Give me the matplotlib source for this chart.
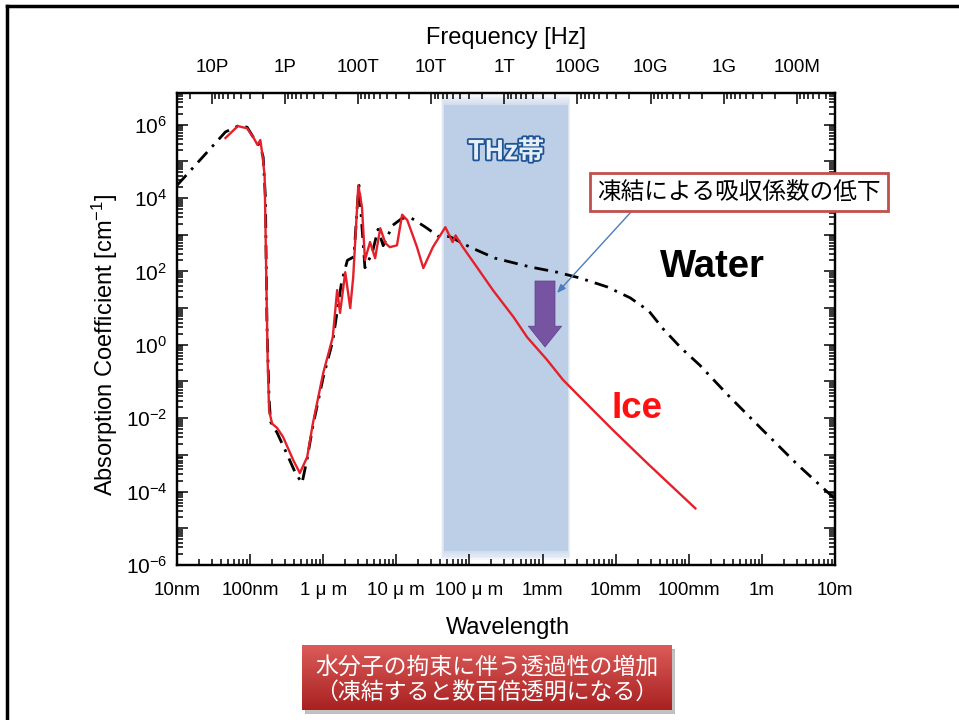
import numpy as np
import matplotlib
matplotlib.use("Agg")
import matplotlib.pyplot as plt
from matplotlib.ticker import FixedLocator, LogLocator, NullFormatter, FuncFormatter
from matplotlib.patches import Rectangle
import matplotlib.patheffects as pe

plt.rcParams['font.family'] = ['Liberation Sans', 'Noto Sans CJK JP', 'DejaVu Sans']
plt.rcParams['mathtext.fontset'] = 'custom'
plt.rcParams['mathtext.rm'] = 'Liberation Sans'
plt.rcParams['mathtext.it'] = 'Liberation Sans'

# wavelength [m] / absorption coefficient [cm^-1]
water_wl = [1.0e-8, 4.6e-8, 6.8e-8, 9.1e-8, 1.10e-7, 1.38e-7, 1.51e-7, 1.62e-7,
            1.70e-7, 1.82e-7, 1.91e-7, 2.34e-7, 3.16e-7, 4.17e-7, 5.13e-7, 6.03e-7,
            7.24e-7, 1.0e-6, 1.35e-6, 1.55e-6, 1.78e-6, 2.14e-6, 2.63e-6, 2.95e-6,
            3.09e-6, 3.39e-6, 3.72e-6, 4.68e-6, 5.62e-6, 6.61e-6, 8.91e-6, 1.20e-5,
            1.62e-5, 2.51e-5, 3.80e-5, 5.37e-5, 1.02e-4, 2.24e-4, 6.76e-4, 1.58e-3,
            3.24e-3, 7.59e-3, 1.58e-2, 2.82e-2, 4.47e-2, 7.94e-2, 0.141, 0.363,
            1.0, 3.02, 10.0]
water_abs = [2.2e4, 6.3e5, 9.1e5, 8.5e5, 4.6e5, 2.5e5, 1.3e5, 1.0e4,
             3.2, 3.2e-2, 7.9e-3, 4.0e-3, 1.1e-3, 3.2e-4, 1.7e-4, 7.9e-4,
             6.3e-3, 0.13, 1.26, 7.9, 50, 200, 250, 7.9e3,
             2.2e4, 1.6e3, 126, 316, 1.4e3, 500, 1.8e3, 2.8e3,
             2.8e3, 1.6e3, 890, 890, 457, 229, 132, 95,
             66, 38, 19, 8.5, 2.7, 0.8, 0.28, 3.8e-2,
             5.0e-3, 5.6e-4, 6.3e-5]

ice_wl = [4.6e-8, 6.8e-8, 9.1e-8, 1.10e-7, 1.26e-7, 1.38e-7, 1.48e-7, 1.58e-7,
          1.66e-7, 1.74e-7, 1.82e-7, 2.0e-7, 2.34e-7, 2.82e-7, 3.89e-7, 4.79e-7,
          6.03e-7, 7.24e-7, 1.0e-6, 1.35e-6, 1.55e-6, 1.70e-6, 2.0e-6, 2.34e-6,
          2.57e-6, 3.02e-6, 3.39e-6, 3.72e-6, 4.37e-6, 5.13e-6, 6.03e-6, 7.08e-6,
          8.13e-6, 1.02e-5, 1.20e-5, 1.41e-5, 1.91e-5, 2.34e-5, 3.16e-5, 4.68e-5,
          5.89e-5, 6.46e-5, 8.13e-5, 1.26e-4, 2.09e-4, 3.98e-4, 6.17e-4, 1.15e-3,
          1.91e-3, 3.24e-3, 9.12e-3, 2.69e-2, 0.123]
ice_abs = [4.3e5, 9.1e5, 7.9e5, 4.6e5, 2.8e5, 3.8e5, 1.4e5, 4.0e4,
           100, 0.32, 1.6e-2, 7.1e-3, 5.4e-3, 3.1e-3, 7.2e-4, 3.2e-4,
           8.7e-4, 7.4e-3, 0.17, 1.6, 31, 7.4, 95, 10,
           69, 2.2e4, 5.6e3, 204, 630, 229, 1.5e3, 590,
           457, 513, 3.5e3, 2.5e3, 468, 123, 457, 1.6e3,
           630, 955, 457, 132, 31, 5.8, 1.6, 0.39,
           0.11, 3.8e-2, 4.8e-3, 6.0e-4, 3.5e-5]

thz_band = [4.5e-5, 2.2e-3]

wl_ticks = [1e-8, 1e-7, 1e-6, 1e-5, 1e-4, 1e-3, 1e-2, 1e-1, 1e0, 1e1]
wl_labels = ['10nm', '100nm', '1 μ m', '10 μ m', '100 μ m', '1mm', '10mm', '100mm', '1m', '10m']
freq_ticks = [1e16, 1e15, 1e14, 1e13, 1e12, 1e11, 1e10, 1e9, 1e8]
freq_labels = ['10P', '1P', '100T', '10T', '1T', '100G', '10G', '1G', '100M']

C = 2.998e8
W, H = 959, 720


def px(x, y):
    # pixel position (from top-left) -> figure fraction
    return x / W, 1 - y / H


fig = plt.figure(figsize=(9.59, 7.2), dpi=100)
ax = fig.add_axes([177 / W, (H - 565) / H, (835 - 177) / W, (565 - 93) / H])

ax.set_xscale('log')
ax.set_yscale('log')
ax.set_xlim(1e-8, 1e1)
ax.set_ylim(1e-6, 10 ** 6.86)

# THz band with soft edges
ax.axvspan(thz_band[0], thz_band[1], ymin=0.03, ymax=0.975, color='#bdcfe6', lw=0, zorder=0)
for k in range(1, 6):
    f = 1 + 0.018 * k
    ax.axvspan(thz_band[0] / f, thz_band[1] * f, ymin=0.03 - 0.004 * k, ymax=0.975 + 0.004 * k,
               color='#bdcfe6', alpha=0.18, lw=0, zorder=0)

ax.plot(water_wl, water_abs, color='black', lw=2.0, linestyle=(0, (5, 2.6, 1, 2.6)), zorder=2)
ax.plot(ice_wl, ice_abs, color='#e4202a', lw=1.7, zorder=3)

# ticks
ax.xaxis.set_major_locator(FixedLocator(wl_ticks))
ax.set_xticklabels(wl_labels)
ax.xaxis.set_minor_locator(LogLocator(base=10, subs=np.arange(2, 10), numticks=20))
ax.xaxis.set_minor_formatter(NullFormatter())
ax.yaxis.set_major_locator(LogLocator(base=10, numticks=20))
ax.yaxis.set_minor_locator(LogLocator(base=10, subs=np.arange(2, 10), numticks=20))
ax.yaxis.set_minor_formatter(NullFormatter())


def ylab(v, pos):
    e = int(round(np.log10(v)))
    return r'$10^{%d}$' % e if e % 2 == 0 else ''


ax.yaxis.set_major_formatter(FuncFormatter(ylab))
ax.tick_params(which='both', direction='in', right=True, top=False, width=1.1)
ax.tick_params(which='major', length=8)
ax.tick_params(which='minor', length=4)
ax.tick_params(axis='x', labelsize=13.5, pad=12)
ax.tick_params(axis='y', labelsize=15, pad=7)
for s in ax.spines.values():
    s.set_linewidth(1.6)

top = ax.twiny()
top.set_xscale('log')
top.set_xlim(C / 1e-8, C / 1e1)
top.xaxis.set_major_locator(FixedLocator(freq_ticks))
top.set_xticklabels(freq_labels)
top.xaxis.set_minor_locator(LogLocator(base=10, subs=np.arange(2, 10), numticks=20))
top.xaxis.set_minor_formatter(NullFormatter())
top.tick_params(which='both', direction='in', width=1.1)
top.tick_params(which='major', length=8, labelsize=13.5, pad=12)
top.tick_params(which='minor', length=4)
for s in top.spines.values():
    s.set_linewidth(1.6)

# axis titles
fig.text(*px(506, 38), 'Frequency [Hz]', ha='center', va='center', fontsize=17)
fig.text(*px(508, 628), 'Wavelength', ha='center', va='center', fontsize=17)
fig.text(*px(105, 345), 'Absorption Coefficient [cm$^{-1}$]', ha='center', va='center',
         rotation=90, fontsize=17)

# annotations
t = fig.text(*px(506, 152), 'THz帯', ha='center', va='center', fontsize=19,
             color='#e6eef8', family=['Noto Sans CJK JP'], fontweight='bold')
t.set_path_effects([pe.withStroke(linewidth=2.6, foreground='#1f5597')])

fig.text(*px(712, 267), 'Water', ha='center', va='center', fontsize=27.5, fontweight='bold')
fig.text(*px(637, 408), 'Ice', ha='center', va='center', fontsize=26.5, fontweight='bold',
         color='#ff1010')

fig.text(*px(739, 192), '凍結による吸収係数の低下', ha='center', va='center', fontsize=17,
         family=['Noto Sans CJK JP'],
         bbox=dict(boxstyle='square,pad=0.3', facecolor='white', edgecolor='#c0504d', lw=2))

ax.annotate('', xy=px(557, 293), xycoords='figure fraction',
            xytext=px(631, 212), textcoords='figure fraction',
            arrowprops=dict(arrowstyle='-|>,head_length=0.5,head_width=0.2',
                            color='#4a7ebb', lw=1, shrinkA=0, shrinkB=0))

ax.annotate('', xy=px(545, 347), xycoords='figure fraction',
            xytext=px(545, 281), textcoords='figure fraction',
            arrowprops=dict(arrowstyle='simple,head_length=0.75,head_width=1.2,tail_width=0.72',
                            mutation_scale=20, fc='#7654a2', ec='#5e3f88', lw=0.5,
                            shrinkA=0, shrinkB=0))

# bottom red box
bx0, by0, bx1, by1 = 302, 645, 672, 710
shadow = fig.add_axes([(bx0 + 3) / W, (H - by1 - 4) / H, (bx1 - bx0) / W, (by1 - by0) / H])
shadow.add_patch(Rectangle((0, 0), 1, 1, color='#9a9a9a', alpha=0.6))
shadow.axis('off')
box = fig.add_axes([bx0 / W, (H - by1) / H, (bx1 - bx0) / W, (by1 - by0) / H])
grad = np.linspace(0, 1, 64)[:, None]
top_col = np.array([0.86, 0.36, 0.35])
bot_col = np.array([0.66, 0.13, 0.13])
img = top_col[None, None, :] * (1 - grad[:, :, None]) + bot_col[None, None, :] * grad[:, :, None]
box.imshow(img, aspect='auto', extent=[0, 1, 0, 1])
box.axis('off')
fig.text(*px(487, 668), '水分子の拘束に伴う透過性の増加', ha='center', va='center',
         fontsize=16.5, color='white', family=['Noto Sans CJK JP'])
fig.text(*px(487, 692), '（凍結すると数百倍透明になる）', ha='center', va='center',
         fontsize=16.5, color='white', family=['Noto Sans CJK JP'])

# slide frame (top and left)
fig.add_artist(plt.Line2D([7 / W, 1], [1 - 6 / H, 1 - 6 / H], color='black', lw=2.5,
                          transform=fig.transFigure))
fig.add_artist(plt.Line2D([7 / W, 7 / W], [0, 1 - 6 / H], color='black', lw=2.5,
                          transform=fig.transFigure))

fig.savefig('out.png', dpi=100)
